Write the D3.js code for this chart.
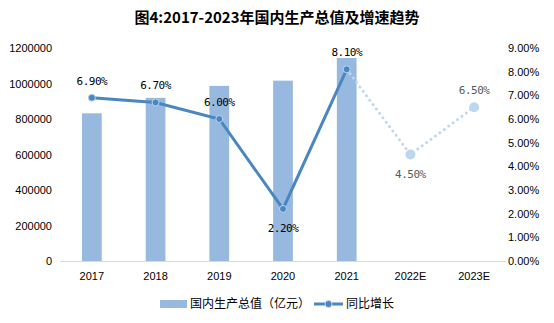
<!DOCTYPE html>
<html><head><meta charset="utf-8">
<script src="https://cdn.jsdelivr.net/npm/d3@7"></script>
<style>body{margin:0;background:#fff;} text{font-family:"Liberation Sans","Noto Sans CJK SC",sans-serif;}</style>
</head><body><svg id="c" width="554" height="323"></svg>
<script>
const categories = ["2017","2018","2019","2020","2021","2022E","2023E"];
const gdpValues = [832036, 919281, 986515, 1015986, 1143670, null, null];
const growthValues = [6.9, 6.7, 6.0, 2.2, 8.1, 4.5, 6.5];
const leftTicks = [0,200000,400000,600000,800000,1000000,1200000];
const rightTicks = [0,1,2,3,4,5,6,7,8,9];
const titleText = "图4:2017-2023年国内生产总值及增速趋势";
const legendLabels = ["国内生产总值（亿元）","同比增长"];
const actualCount = 5;

const svg = d3.select("#c");
const x = d3.scaleBand().domain(categories).range([60,506]).paddingInner(0.69).paddingOuter(0.345);
const yL = d3.scaleLinear().domain([0,1200000]).range([261,48]);
const yR = d3.scaleLinear().domain([0,9]).range([261,48]);
const cx = d => x(d)+x.bandwidth()/2;

svg.append("text").attr("x",277).attr("y",23).attr("text-anchor","middle")
  .style("font-family","'Noto Sans CJK SC',serif").style("font-weight","bold").style("font-size","15px").text(titleText);

// left axis labels
svg.append("g").selectAll("text").data(leftTicks).join("text")
  .attr("x",52).attr("y",d=>yL(d)+4).attr("text-anchor","end")
  .style("font-size","11px").attr("fill","#000").text(d=>d);
// right axis labels
svg.append("g").selectAll("text").data(rightTicks).join("text")
  .attr("x",508).attr("y",d=>yR(d)+4).attr("text-anchor","start")
  .style("font-size","11px").attr("fill","#000").text(d=>d.toFixed(2)+"%");

// bars
svg.append("g").selectAll("rect").data(categories.map((c,i)=>({c,v:gdpValues[i]})).filter(d=>d.v!=null)).join("rect")
  .attr("x",d=>x(d.c)).attr("width",x.bandwidth()).attr("y",d=>yL(d.v)).attr("height",d=>yL(0)-yL(d.v))
  .attr("fill","#98B9DF");

// baseline
svg.append("line").attr("x1",60).attr("x2",506).attr("y1",261.5).attr("y2",261.5).attr("stroke","#d9d9d9");

// x labels
svg.append("g").selectAll("text").data(categories).join("text")
  .attr("x",d=>cx(d)).attr("y",280).attr("text-anchor","middle").style("font-size","11px").text(d=>d);

const pts = categories.map((c,i)=>({c,v:growthValues[i],i}));
const line = d3.line().x(d=>cx(d.c)).y(d=>yR(d.v));
const actual = pts.slice(0,actualCount), proj = pts.slice(actualCount-1);
svg.append("path").attr("d",line(proj)).attr("fill","none").attr("stroke","#BDD7EE").attr("stroke-width",3)
  .attr("stroke-dasharray","0 5.5").attr("stroke-linecap","round");
svg.append("path").attr("d",line(actual)).attr("fill","none").attr("stroke","#4A86BF").attr("stroke-width",3);
svg.append("g").selectAll("circle").data(actual).join("circle")
  .attr("cx",d=>cx(d.c)).attr("cy",d=>yR(d.v)).attr("r",3.5).attr("fill","#4A86BF").attr("stroke","#BDD7EE").attr("stroke-width",1);
svg.append("g").selectAll("circle").data(pts.slice(actualCount)).join("circle")
  .attr("cx",d=>cx(d.c)).attr("cy",d=>yR(d.v)).attr("r",5).attr("fill","#BDD7EE");

// value labels
const below = new Set(["2020","2022E"]);
svg.append("g").selectAll("text").data(pts).join("text")
  .attr("x",d=>cx(d.c)).attr("y",d=>below.has(d.c)? yR(d.v)+23 : yR(d.v)-13)
  .attr("text-anchor","middle").style("font-size","11px")
  .style("font-family","'DejaVu Sans Mono',monospace").style("letter-spacing","-0.5px")
  .attr("fill",d=>d.i>=actualCount?"#595959":"#000").text(d=>d.v.toFixed(2)+"%");

// legend
const lg = svg.append("g");
lg.append("rect").attr("x",160).attr("y",300).attr("width",27).attr("height",8).attr("fill","#98B9DF");
lg.append("text").attr("x",190).attr("y",308).style("font-size","12px").style("font-family","'Noto Sans CJK SC',sans-serif").text(legendLabels[0]);
lg.append("line").attr("x1",314).attr("x2",343).attr("y1",304).attr("y2",304).attr("stroke","#4A86BF").attr("stroke-width",3);
lg.append("circle").attr("cx",328.5).attr("cy",304).attr("r",3.5).attr("fill","#4A86BF").attr("stroke","#BDD7EE");
lg.append("text").attr("x",346).attr("y",308).style("font-size","12px").style("font-family","'Noto Sans CJK SC',sans-serif").text(legendLabels[1]);
</script></body></html>
